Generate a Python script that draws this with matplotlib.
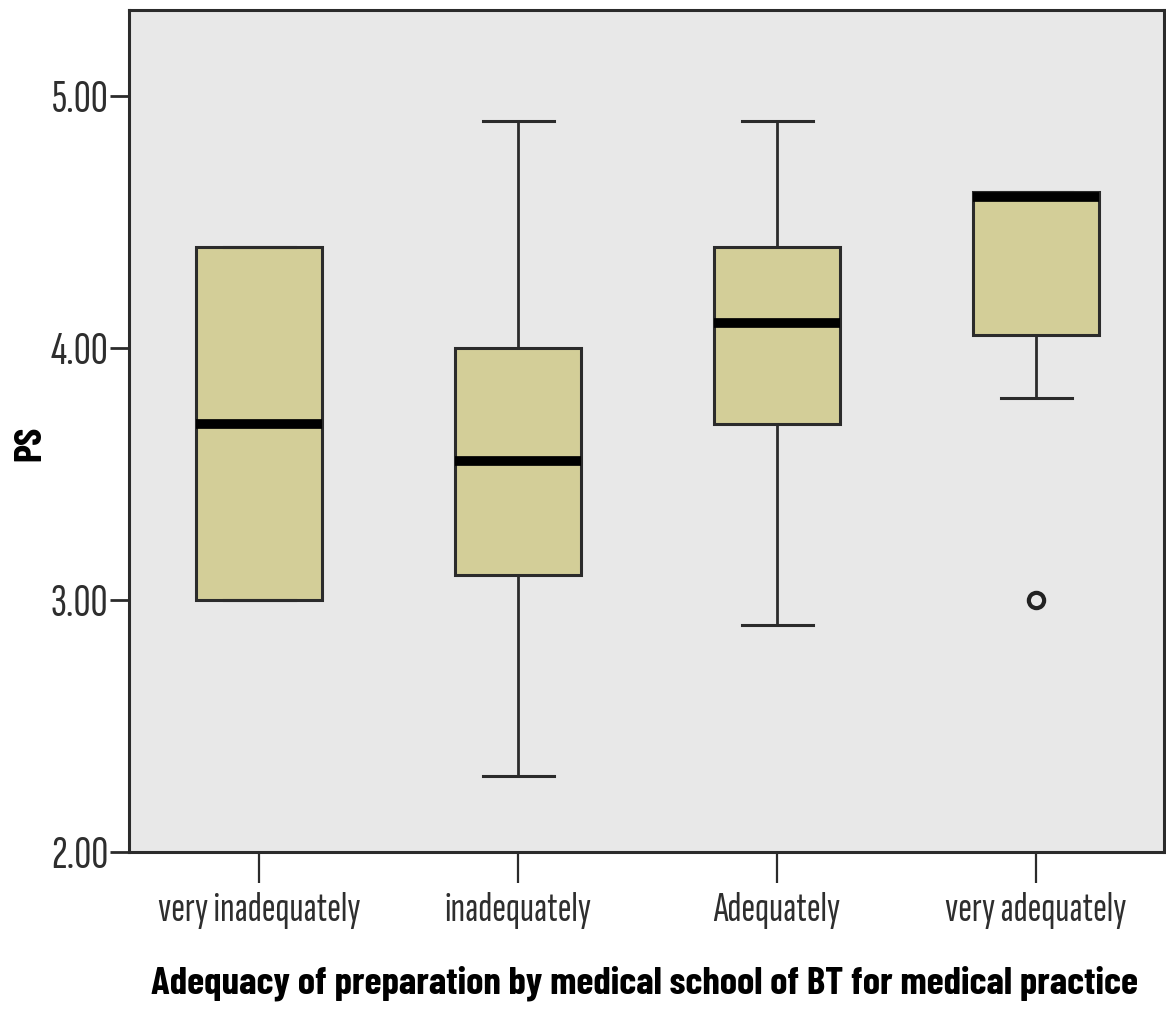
import matplotlib
matplotlib.use("Agg")
import matplotlib.pyplot as plt

# Data: five-number summaries of PS per preparation group
categories = ["very inadequately", "inadequately", "Adequately", "very adequately"]
whisker_low = [3.00, 2.30, 2.90, 3.80]
q1 = [3.00, 3.10, 3.70, 4.05]
median = [3.70, 3.55, 4.10, 4.60]
q3 = [4.40, 4.00, 4.40, 4.62]
whisker_high = [4.40, 4.90, 4.90, 4.62]
outliers = [[], [], [], [3.00]]
yticks = [2.00, 3.00, 4.00, 5.00]

FONT = ["Sofia Sans Extra Condensed", "DejaVu Sans"]
BOLD_FONT = ["Barlow Condensed", "DejaVu Sans"]

fig = plt.figure(figsize=(11.66, 10.09), dpi=100)
ax = fig.add_axes([129 / 1166, 157 / 1009, 1035 / 1166, 842 / 1009])
ax.set_facecolor("#e8e8e8")

stats = []
for i, c in enumerate(categories):
    stats.append(dict(label=c, whislo=whisker_low[i], q1=q1[i], med=median[i],
                      q3=q3[i], whishi=whisker_high[i], fliers=outliers[i]))

edge = "#2b2b2b"
ax.bxp(stats, positions=range(1, len(categories) + 1), widths=0.483,
       capwidths=0.274, patch_artist=True, showfliers=True,
       boxprops=dict(facecolor="#d3ce98", edgecolor=edge, linewidth=2.2),
       whiskerprops=dict(color=edge, linewidth=2.0),
       capprops=dict(color=edge, linewidth=2.2),
       medianprops=dict(color="black", linewidth=7, solid_capstyle="butt"),
       flierprops=dict(marker="o", markersize=11, markerfacecolor="none",
                       markeredgecolor="#222222", markeredgewidth=3))

ax.set_xlim(0.498, 4.494)
ax.set_ylim(2.0, 5.341)
ax.set_yticks(yticks)
ax.set_yticklabels([f"{v:.2f}" for v in yticks])
ax.set_xticks(range(1, len(categories) + 1))
ax.set_xticklabels(categories)

for s in ax.spines.values():
    s.set_color(edge)
    s.set_linewidth(2.2)

ax.tick_params(axis="y", direction="out", length=14, width=2, color=edge,
               pad=1, labelsize=34, labelcolor="#2e2e2e")
ax.tick_params(axis="x", direction="out", length=22, width=1.6, color=edge,
               pad=7, labelsize=30, labelcolor="#2e2e2e")
for lab in ax.get_xticklabels() + ax.get_yticklabels():
    lab.set_fontfamily(FONT)

ax.set_xlabel("Adequacy of preparation by medical school of BT for medical practice",
              fontsize=28, fontweight="bold", fontfamily=BOLD_FONT, color="black",
              va="center")
ax.xaxis.set_label_coords(0.4985, -0.156)
ax.set_ylabel("PS", fontsize=28, fontweight="bold", fontfamily=BOLD_FONT,
              color="black", va="center")
ax.yaxis.set_label_coords(-0.0957, 0.485)

fig.savefig("out.png", dpi=100, facecolor="white")
